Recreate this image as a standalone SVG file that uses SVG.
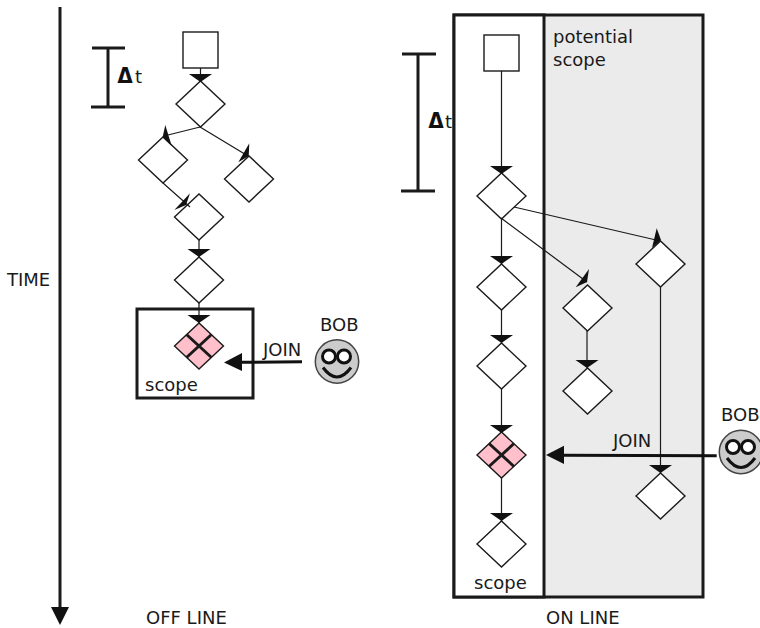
<svg xmlns="http://www.w3.org/2000/svg" width="760" height="628" viewBox="0 0 760 628">
<style>
text{font-family:"DejaVu Sans",sans-serif;font-size:18px;fill:#1a1a1a}
.b{font-family:Inter,"DejaVu Sans",sans-serif;font-size:21px;font-weight:800;fill:#111}
.t{font-size:18px}
.n{fill:#fff;stroke:#1a1a1a;stroke-width:1.4}
.p{fill:#ffc0cb;stroke:#1a1a1a;stroke-width:1.4}
.x{fill:none;stroke:#1a1a1a;stroke-width:3}
.c{fill:none;stroke:#1a1a1a;stroke-width:1.2}
.h{fill:#111;stroke:none}
.f{fill:#ccc;stroke:#444;stroke-width:1.5}
.e{fill:#fff;stroke:#111;stroke-width:3}
.m{fill:none;stroke:#111;stroke-width:3}
.j{fill:none;stroke:#111;stroke-width:3}
.k{fill:none;stroke:#1a1a1a;stroke-width:3}
</style>
<defs>
<polygon id="dia" points="-24.5,0 0,-23 24.500,0 0,23"/>
<polygon id="down" points="-11.5,-8 11.5,-8 0,0"/>
<g id="cross"><use href="#dia" class="p"/><path class="x" d="M-12.5,-11.5L12.5,11.5M-12.5,11.5L12.5,-11.5"/></g>
<g id="bob"><circle class="f" r="21.7"/><circle class="e" cx="-8" cy="-5" r="6.5"/><circle class="e" cx="7" cy="-5" r="6.5"/><path class="m" d="M-14,6Q0,25 14,6"/></g>
</defs>
<rect x="454" y="15" width="249" height="582" fill="#ebebeb" stroke="#1a1a1a" stroke-width="3"/>
<rect id="online-scope" x="454" y="15" width="90" height="582" fill="#fff" stroke="#1a1a1a" stroke-width="3"/>
<rect id="offline-scope" x="137" y="309" width="116" height="89" fill="#fff" stroke="#1a1a1a" stroke-width="3"/>

<g id="time-axis"><path class="k" d="M60,7V609"/><polygon class="h" points="60,625 51,607 69,607"/><text x="7" y="286">TIME</text></g>
<g id="dt-left"><path class="k" d="M108,48V107M92,48H125M91,107H125"/><text class="b" x="117" y="83">Δ</text><text class="t" x="135" y="83">t</text></g>
<g id="dt-right"><path class="k" d="M418,54V191M402,54H436M401,191H435"/><text class="b" x="428" y="128">Δ</text><text class="t" x="445" y="128">t</text></g>

<g id="L0"><rect class="n" x="183" y="32" width="35" height="36"/></g>
<g id="L1"><use href="#dia" class="n" x="200.500" y="104"/></g>
<g id="L2"><use href="#dia" class="n" x="163" y="160"/></g>
<g id="L3"><use href="#dia" class="n" x="249" y="179"/></g>
<g id="L4"><use href="#dia" class="n" x="199" y="217"/></g>
<g id="L5"><use href="#dia" class="n" x="199" y="280"/></g>
<g id="L6"><use href="#cross" x="199" y="346"/></g>
<g id="R0"><rect class="n" x="484" y="35" width="35" height="36"/></g>
<g id="R1"><use href="#dia" class="n" x="501.500" y="196"/></g>
<g id="R2"><use href="#dia" class="n" x="501.500" y="287"/></g>
<g id="R3"><use href="#dia" class="n" x="660.500" y="264"/></g>
<g id="R4"><use href="#dia" class="n" x="587.500" y="308"/></g>
<g id="R5"><use href="#dia" class="n" x="587.500" y="391"/></g>
<g id="R6"><use href="#dia" class="n" x="501.500" y="366"/></g>
<g id="R7"><use href="#cross" x="501.500" y="455"/></g>
<g id="R8"><use href="#dia" class="n" x="501.500" y="544"/></g>
<g id="R9"><use href="#dia" class="n" x="660.500" y="496"/></g>

<g id="connectors">
<path class="c" d="M200.500,68V75M200,127L168,135M200,127L248,156M163,183L190,207M199,240V257M199,303V323"/>
<path class="c" d="M501.500,71V173M501.500,219V264M514,207L656,240M501,218L587,282M660.500,287V473M587,331V368M501.500,310V343M501.500,389V432M501.500,477V521"/>
<g class="h">
<use href="#down" x="200.500" y="82"/>
<polygon points="165.300,125 171.700,146 162.700,137"/>
<polygon points="249.300,143.300 248.700,156 238.300,162.300"/>
<polygon points="190,193.300 186,205 174.300,210"/>
<use href="#down" x="199" y="257"/>
<use href="#down" x="199" y="323"/>
<use href="#down" x="501.500" y="174"/>
<use href="#down" x="501.500" y="264"/>
<polygon points="656.700,228.300 661,240 652,248"/>
<polygon points="589,269 587,282 575.700,287.300"/>
<use href="#down" x="587" y="368"/>
<use href="#down" x="501.500" y="343"/>
<use href="#down" x="501.500" y="433"/>
<use href="#down" x="501.500" y="521"/>
<use href="#down" x="660.500" y="473"/>
</g>
<path class="j" d="M302,361.700L240,362.300"/>
<polygon class="h" points="224,362.500 242,353 242,371"/>
<path class="j" d="M716.700,455.800L562,455.200"/>
<polygon class="h" points="546,455 564,445.700 564,464"/>
</g>

<g id="bob-left"><use href="#bob" x="337" y="361.500"/><text x="320" y="331">BOB</text></g>
<g id="bob-right"><use href="#bob" x="741" y="452"/><text x="721" y="421">BOB</text></g>

<text x="263" y="356">JOIN</text>
<text x="145" y="391">scope</text>
<text x="613" y="447">JOIN</text>
<text x="474" y="589">scope</text>
<text x="553" y="43">potential</text>
<text x="553" y="66">scope</text>
<text x="146" y="624">OFF LINE</text>
<text x="546" y="624">ON LINE</text>
</svg>
